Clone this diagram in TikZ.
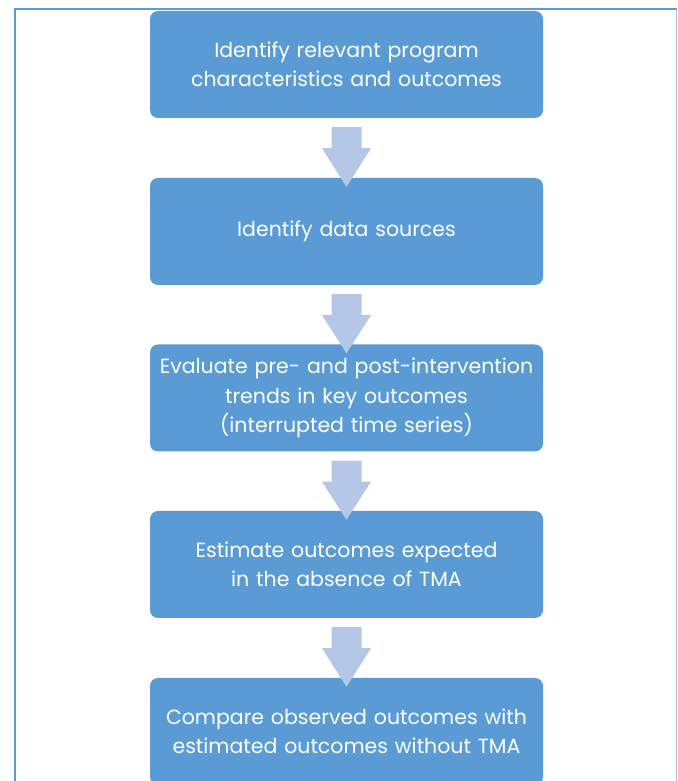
\documentclass[tikz,border=0pt]{standalone}
\usepackage{fontspec}
\setmainfont{Poppins}
\usetikzlibrary{calc}
\definecolor{stepblue}{HTML}{5B9BD5}
\definecolor{arrowblue}{HTML}{B4C7E7}
\definecolor{framelight}{HTML}{9DC3E6}
\tikzset{
  x=1pt, y=1pt,
  stepbox/.style={fill=stepblue, draw=none, rounded corners=8pt,
    minimum width=393pt, minimum height=107pt, text width=385pt,
    align=center, text=white,
    font=\fontsize{20.5}{29.5}\selectfont},
  flowarrow/.style={fill=arrowblue, draw=none}
}
% block arrow between two stacked boxes
\newcommand{\blockarrow}[2]{%
  \fill[flowarrow]
    ($(#1.south)+(-15,-9)$) -- ($(#1.south)+(15,-9)$) --
    ($(#1.south)+(15,-30)$) -- ($(#1.south)+(24.5,-30)$) --
    ($(#2.north)+(0,-9)$) --
    ($(#1.south)+(-24.5,-30)$) -- ($(#1.south)+(-15,-30)$) -- cycle;}
\begin{document}
\begin{tikzpicture}
\useasboundingbox (0,0) rectangle (677,781);
% outer frame, open at the bottom
\draw[stepblue, line width=2pt] (15,0) -- (15,772) -- (677,772);
\draw[framelight, line width=1pt] (676,772) -- (676,0);
% steps
\node[stepbox] (s1) at (346.5,716.5) {Identify relevant program\\characteristics and outcomes};
\node[stepbox] (s2) at (346.5,549.5) {Identify data sources};
\node[stepbox] (s3) at (346.5,383) {Evaluate pre- and post-intervention\\trends in key outcomes\\(interrupted time series)};
\node[stepbox] (s4) at (346.5,216.5) {Estimate outcomes expected\\in the absence of TMA};
\node[stepbox] (s5) at (346.5,49.5) {Compare observed outcomes with\\estimated outcomes without TMA};
% arrows
\blockarrow{s1}{s2}
\blockarrow{s2}{s3}
\blockarrow{s3}{s4}
\blockarrow{s4}{s5}
\end{tikzpicture}
\end{document}
